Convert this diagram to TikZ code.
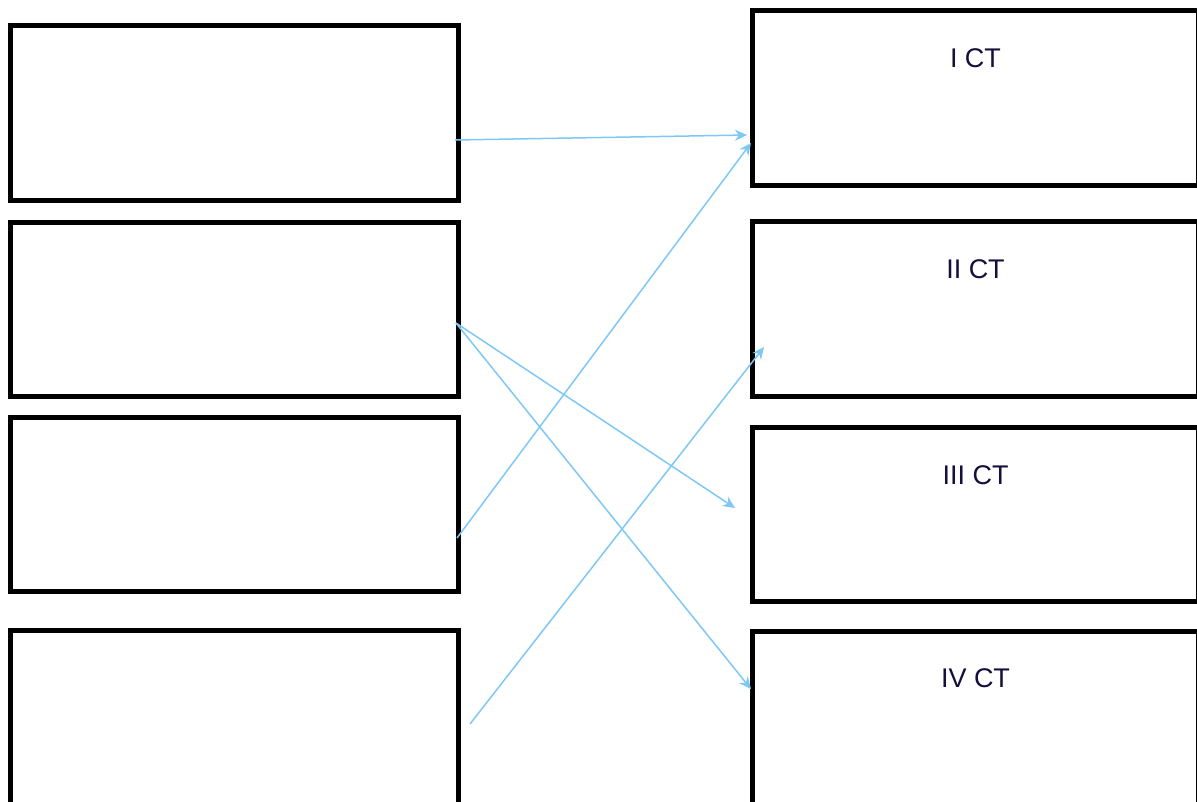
\documentclass[tikz,border=0pt]{standalone}
\usepackage{fontspec}
\setmainfont{Liberation Sans}
\usetikzlibrary{arrows.meta}
\definecolor{arrowblue}{RGB}{125,200,245}
\definecolor{txt}{RGB}{20,15,60}
\tikzset{
  box/.style={draw=black, line width=5pt, fill=white, inner sep=0pt, rectangle},
  lbox/.style={box, minimum width=447.5pt},
  rbox/.style={box, minimum width=446pt},
  lbl/.style={anchor=center, yshift=-50pt, text=txt, font=\fontsize{27}{32}\selectfont},
  conn/.style={draw=arrowblue, line width=1.5pt, -{Stealth[length=12pt,width=11pt]}}
}
\begin{document}
\begin{tikzpicture}[x=1pt,y=-1pt]
\useasboundingbox (0,0) rectangle (1197,801);
% left boxes
\node[lbox, minimum height=175pt] (L1) at (234.25,113) {};
\node[lbox, minimum height=174.5pt] (L2) at (234.25,309.25) {};
\node[lbox, minimum height=173.5pt] (L3) at (234.25,504.25) {};
\node[lbox, minimum height=175pt] (L4) at (234.25,718) {};
% right boxes
\node[rbox, minimum height=175pt, label={[lbl]north:I CT}] (R1) at (975.5,98) {};
\node[rbox, minimum height=174.5pt, label={[lbl]north:II CT}] (R2) at (975.5,308.75) {};
\node[rbox, minimum height=174pt, label={[lbl]north:III CT}] (R3) at (975.5,514.5) {};
\node[rbox, minimum height=175pt, label={[lbl]north:IV CT}] (R4) at (975.5,718.5) {};
% connector end points
\coordinate (s1) at (455,140);
\coordinate (s2) at (456,323);
\coordinate (s3) at (457,538);
\coordinate (s4) at (470,724);
\coordinate (t1) at (747,135);
\coordinate (t2) at (751,143);
\coordinate (t3) at (764,347);
\coordinate (t4) at (735,508);
\coordinate (t5) at (751,689);
% connectors
\draw[conn] (s1) -- (t1);
\draw[conn] (s3) -- (t2);
\draw[conn] (s2) -- (t4);
\draw[conn] (s2) -- (t5);
\draw[conn] (s4) -- (t3);
\end{tikzpicture}
\end{document}
